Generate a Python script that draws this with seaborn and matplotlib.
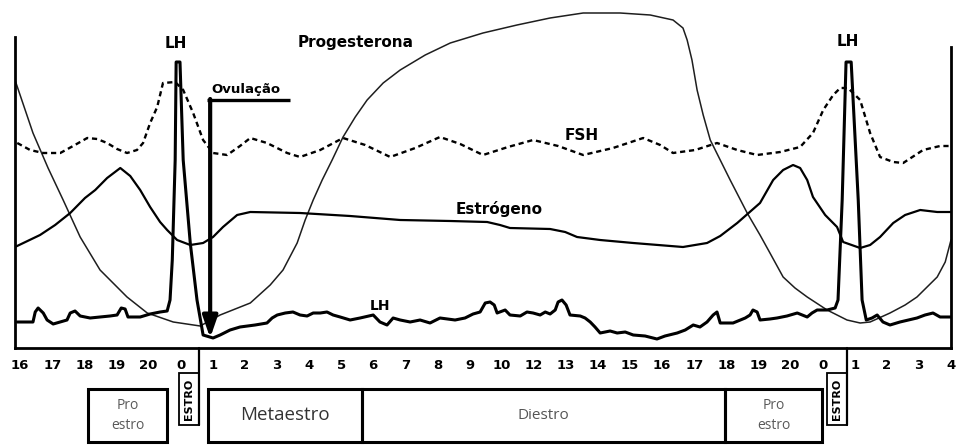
import numpy as np
import pandas as pd
import seaborn as sns
import matplotlib.pyplot as plt
from matplotlib.patches import Rectangle

# -----------------------------
# Dados lidos da figura
# x = posicao no eixo de dias (0 = primeira marca "16"), y = nivel relativo
# -----------------------------

dias = ["16", "17", "18", "19", "20", "0", "1", "2", "3", "4", "5", "6", "7", "8", "9",
        "10", "12", "13", "14", "15", "16", "17", "18", "19", "20", "0", "1", "2", "3", "4"]

prog_x = [-0.16, 0.40, 0.87, 1.34, 1.87, 2.49, 3.33, 3.96, 4.77, 5.61,
          6.23, 7.17, 7.79, 8.19, 8.63, 8.88, 9.13, 9.41, 9.72, 10.06,
          10.44, 10.81, 11.31, 11.84, 12.62, 13.40, 14.42, 15.48, 16.51, 17.54,
          18.69, 19.63, 20.34, 20.65, 20.78, 20.93, 21.09, 21.28, 21.50, 21.81,
          22.12, 22.65, 23.05, 23.36, 23.77, 24.14, 24.52, 25.14, 25.76, 26.17,
          26.48, 27.10, 27.57, 27.94, 28.57, 28.82, 29.00]
prog_y = [268, 215, 180, 148, 111, 78, 51, 35, 26, 22,
          33, 45, 63, 78, 105, 128, 148, 168, 188, 211,
          231, 248, 265, 278, 293, 305, 315, 323, 330, 335,
          335, 333, 328, 320, 308, 288, 258, 233, 208, 188,
          168, 135, 113, 95, 71, 60, 51, 38, 28, 25,
          26, 35, 43, 51, 71, 86, 108]

estr_x = [-0.16, 0.62, 1.09, 1.56, 2.02, 2.34, 2.71, 3.12, 3.43, 3.74,
          4.05, 4.36, 4.58, 4.89, 5.30, 5.70, 6.01, 6.32, 6.76, 7.17,
          8.72, 10.28, 11.84, 13.40, 14.55, 14.95, 15.26, 16.51, 16.98, 17.35,
          18.07, 19.10, 20.65, 21.40, 21.81, 22.34, 23.05, 23.46, 23.77, 24.08,
          24.30, 24.52, 24.70, 25.08, 25.45, 25.64, 26.17, 26.48, 26.79, 27.20,
          27.57, 28.04, 28.57, 29.00]
estr_y = [101, 113, 123, 135, 150, 158, 170, 180, 172, 158,
          141, 126, 118, 108, 103, 105, 111, 121, 133, 136,
          135, 132, 128, 127, 126, 123, 120, 119, 116, 111,
          108, 105, 101, 105, 112, 125, 145, 168, 178, 183,
          180, 168, 151, 133, 121, 106, 100, 103, 111, 125,
          133, 138, 136, 136]

fsh_x = [-0.09, 0.31, 0.72, 1.25, 1.65, 2.09, 2.40, 2.71, 3.02, 3.33,
         3.64, 3.83, 4.05, 4.27, 4.45, 4.83, 5.08, 5.39, 5.70, 6.01,
         6.45, 6.85, 7.17, 7.69, 8.32, 8.72, 9.35, 10.06, 10.75, 11.53,
         12.31, 13.08, 13.71, 14.42, 15.20, 15.98, 16.76, 17.54, 18.47, 19.41,
         19.94, 20.34, 21.03, 21.71, 22.34, 22.96, 23.68, 24.30, 24.70, 25.02,
         25.33, 25.55, 25.79, 26.17, 26.48, 26.79, 27.20, 27.51, 28.13, 28.66,
         29.00]
fsh_y = [205, 198, 195, 195, 202, 210, 209, 205, 199, 195,
         198, 205, 225, 241, 265, 266, 258, 235, 208, 195,
         193, 202, 210, 205, 195, 191, 198, 210, 203, 191,
         200, 211, 204, 193, 201, 208, 202, 193, 200, 210,
         203, 195, 198, 205, 198, 193, 196, 201, 215, 238,
         253, 260, 260, 248, 215, 191, 186, 185, 198, 202,
         202]

lh_x = [-0.09, 0.40, 0.47, 0.56, 0.72, 0.84, 1.03, 1.25, 1.46, 1.56,
        1.71, 1.87, 2.18, 2.49, 2.80, 3.02, 3.15, 3.27, 3.36, 3.74,
        4.05, 4.36, 4.58, 4.67, 4.74, 4.83, 4.86, 4.98, 5.08, 5.30,
        5.51, 5.70, 6.01, 6.23, 6.54, 6.85, 7.32, 7.69, 7.85, 8.01,
        8.26, 8.50, 8.72, 8.94, 9.13, 9.35, 9.56, 9.75, 9.97, 10.28,
        10.59, 11.00, 11.21, 11.43, 11.62, 11.84, 12.15, 12.46, 12.77, 13.08,
        13.55, 13.86, 14.11, 14.33, 14.49, 14.64, 14.77, 14.86, 15.11, 15.26,
        15.58, 15.79, 15.98, 16.20, 16.36, 16.51, 16.67, 16.76, 16.88, 17.01,
        17.13, 17.45, 17.60, 17.76, 17.91, 18.07, 18.38, 18.60, 18.85, 19.10,
        19.47, 19.84, 20.09, 20.47, 20.72, 20.97, 21.18, 21.40, 21.59, 21.71,
        21.81, 22.21, 22.59, 22.74, 22.83, 22.96, 23.05, 23.36, 23.58, 23.89,
        24.21, 24.52, 24.67, 24.83, 25.14, 25.39, 25.48, 25.61, 25.73, 25.89,
        26.11, 26.23, 26.36, 26.54, 26.70, 26.88, 27.10, 27.41, 27.94, 28.19,
        28.44, 28.66, 29.00]
lh_y = [26, 26, 36, 40, 35, 28, 24, 26, 28, 35,
        37, 32, 30, 31, 32, 33, 40, 39, 31, 31,
        34, 36, 37, 48, 88, 188, 286, 286, 188, 105,
        48, 13, 10, 13, 18, 21, 23, 25, 30, 33,
        35, 36, 33, 32, 35, 35, 36, 33, 31, 28,
        30, 33, 26, 23, 30, 28, 26, 28, 25, 30,
        28, 30, 34, 36, 45, 46, 43, 35, 38, 33,
        32, 36, 35, 33, 36, 34, 38, 46, 48, 43,
        33, 32, 30, 26, 21, 15, 17, 15, 16, 13,
        12, 9, 12, 15, 18, 23, 21, 26, 33, 36,
        25, 25, 30, 33, 38, 36, 28, 29, 30, 32,
        35, 31, 35, 38, 38, 40, 48, 148, 286, 286,
        148, 48, 28, 30, 33, 26, 23, 26, 30, 33,
        35, 31, 31]

# fases do ciclo (inicio e fim no eixo de dias)
fases = ["Pro\nestro", "Metaestro", "Diestro", "Pro\nestro"]
fase_ini = [2.12, 5.86, 10.65, 21.96]
fase_fim = [4.58, 10.65, 21.96, 24.98]
estro_pos = [5.58, 25.76]
ovulacao = 5.92

# -----------------------------
# Figura
# -----------------------------

sns.set_style("white")
plt.rcParams['font.family'] = ['DejaVu Sans']
plt.rcParams['text.color'] = 'black'
plt.rcParams['xtick.color'] = 'black'
plt.rcParams['axes.edgecolor'] = 'black'

fig = plt.figure(figsize=(9.57, 4.46), dpi=100)
ax = fig.add_axes([15 / 957, 98 / 446, 936 / 957, 348 / 446])
ax.set_xlim(-0.16, 29.0)
ax.set_ylim(0, 348)

sns.lineplot(x=prog_x, y=prog_y, sort=False, estimator=None, ax=ax,
             color='#1e1e1e', linewidth=1.1)
sns.lineplot(x=estr_x, y=estr_y, sort=False, estimator=None, ax=ax,
             color='black', linewidth=1.6)
sns.lineplot(x=fsh_x, y=fsh_y, sort=False, estimator=None, ax=ax,
             color='black', linewidth=1.7, linestyle=(0, (2.2, 1.6)))
sns.lineplot(x=lh_x, y=lh_y, sort=False, estimator=None, ax=ax,
             color='black', linewidth=2.2)

# Ovulacao
ax.plot([ovulacao - 0.09, ovulacao + 2.49], [248, 248], color='black', lw=2.4,
        solid_capstyle='butt')
ax.annotate('', xy=(ovulacao, 10), xytext=(ovulacao, 249),
            arrowprops=dict(arrowstyle='-|>,head_length=1.3,head_width=0.45',
                            lw=3, color='black', shrinkA=0, shrinkB=0))
ax.text(ovulacao + 1.12, 252, "Ovulação", ha='center', va='bottom',
        fontsize=9.5, fontweight='bold')

# Rotulos das curvas
rot = dict(ha='center', va='center', fontweight='bold')
ax.text(4.86, 304, "LH", fontsize=11, **rot)
ax.text(25.79, 307, "LH", fontsize=11, **rot)
ax.text(10.44, 305, "Progesterona", fontsize=11, **rot)
ax.text(17.51, 212, "FSH", fontsize=11, **rot)
ax.text(14.92, 139, "Estrógeno", fontsize=11, **rot)
ax.text(11.21, 42, "LH", fontsize=10, **rot)

# Eixos
ax.spines['top'].set_visible(False)
for lado in ['left', 'right', 'bottom']:
    ax.spines[lado].set_linewidth(2.0)
ax.spines['left'].set_bounds(0, 311)
ax.spines['right'].set_bounds(0, 301)
ax.set_xticks(np.arange(len(dias)))
ax.set_xticklabels(dias, fontsize=9.5, fontweight='bold')
ax.tick_params(axis='x', length=6, width=1.3, pad=2, direction='out')
ax.set_yticks([])
ax.set_xlabel('')
ax.set_ylabel('')

# Estro
for p in estro_pos:
    ax.plot([p, p], [0, -77], color='black', lw=1.6, clip_on=False)
    ax.add_patch(Rectangle((p - 0.62, -77), 0.62, 52, fill=False, lw=1.3,
                           edgecolor='black', clip_on=False))
    ax.text(p - 0.31, -51, "ESTRO", rotation=90, ha='center', va='center',
            fontsize=8, fontweight='bold', clip_on=False)

# Fases
tam = [10, 13.5, 11, 10]
cor = ['#5a5a5a', '#333333', '#555555', '#5a5a5a']
for nome, a, b, t, c in zip(fases, fase_ini, fase_fim, tam, cor):
    ax.add_patch(Rectangle((a, -94), b - a, 53, fill=False, lw=2.2,
                           edgecolor='black', clip_on=False))
    ax.text((a + b) / 2, -67.5, nome, ha='center', va='center', fontsize=t,
            color=c, family='Open Sans', linespacing=1.5, clip_on=False)

fig.savefig('out.png', dpi=100)
